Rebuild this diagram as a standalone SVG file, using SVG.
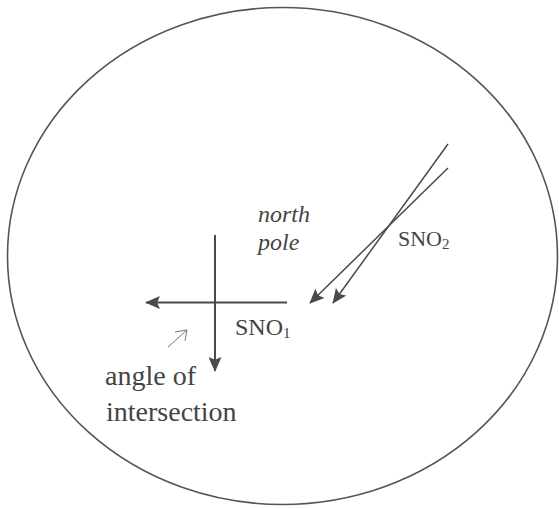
<svg xmlns="http://www.w3.org/2000/svg" width="559" height="508" viewBox="0 0 559 508">
<style>
.ln{stroke:#4a4a4a;stroke-width:2;fill:none}
.thin{stroke:#4a4a4a;stroke-width:1.5;fill:none}
.t{font-family:"Liberation Serif","Times New Roman",serif;fill:#444}
.it{font-style:italic}
</style>
<defs>
<marker id="ah" viewBox="0 0 16 14" refX="15" refY="7" markerWidth="16" markerHeight="13" markerUnits="userSpaceOnUse" orient="auto">
<path d="M0,0 L16,7 L0,14 L3,7 Z" fill="#4a4a4a"/>
</marker>
</defs>
<rect width="559" height="508" fill="#fff"/>
<g id="globe">
<ellipse cx="282.5" cy="256" rx="275" ry="248.5" fill="none" stroke="#555" stroke-width="1.6"/>
</g>
<g id="connectors">
<line class="ln" x1="215" y1="235" x2="215" y2="371" marker-end="url(#ah)"/>
<line class="ln" x1="287" y1="302.5" x2="146" y2="302.5" marker-end="url(#ah)"/>
<line class="thin" x1="448" y1="144" x2="333" y2="303" marker-end="url(#ah)"/>
<line class="thin" x1="448" y1="168" x2="310" y2="303" marker-end="url(#ah)"/>
<path d="M168,347 L187,330 M175,332 L187,330 L185,341" stroke="#777" stroke-width="1" fill="none"/>
</g>
<g id="north-pole">
<text class="t it" x="258" y="222" font-size="24">north</text>
<text class="t it" x="258" y="250" font-size="24">pole</text>
</g>
<g id="sno1">
<text class="t" x="235" y="335" font-size="24">SNO<tspan font-size="15" dy="3">1</tspan></text>
</g>
<g id="sno2">
<text class="t" x="398" y="246" font-size="22">SNO<tspan font-size="15" dy="3">2</tspan></text>
</g>
<g id="angle-label">
<text class="t" x="105" y="385" font-size="28">angle of</text>
<text class="t" x="106" y="421" font-size="28">intersection</text>
</g>
</svg>
